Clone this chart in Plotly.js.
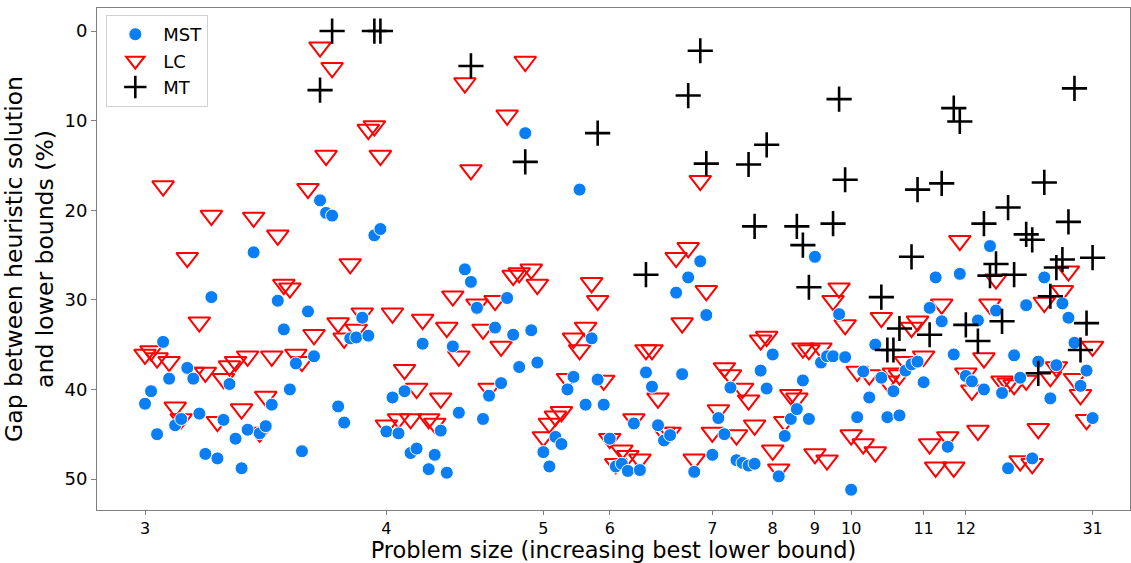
<!DOCTYPE html>
<html>
<head>
<meta charset="utf-8">
<script src="https://cdn.plot.ly/plotly-3.0.1.min.js"></script>
<style>html,body{margin:0;padding:0;background:#fff;}#chart{width:1131px;height:563px;}</style>
</head>
<body>
<div id="chart"></div>
<script>
// Instances sorted by best lower bound; value = gap (%) per heuristic
const mstGap = [
41.6,40.2,45.0,34.7,38.8,44.0,43.3,37.6,38.8,42.7,
47.2,29.7,47.7,43.4,39.4,45.5,48.8,44.5,24.7,44.9,
44.1,41.7,30.1,33.3,40.0,37.1,46.9,31.3,36.3,18.9,
20.3,20.6,41.9,43.7,34.3,34.2,32.0,34.0,22.8,22.1,
44.7,40.9,44.9,40.2,47.1,46.6,34.9,48.9,47.3,44.6,
49.3,35.2,42.6,26.6,28.0,30.9,43.3,40.7,33.1,39.3,
29.8,33.9,37.5,11.4,33.4,37.0,47.0,48.6,45.3,46.1,
40.0,38.6,17.7,41.7,34.3,38.9,41.7,45.5,48.6,48.3,
49.1,43.8,49.0,38.1,39.7,44.0,45.7,45.1,29.2,38.3,
27.5,49.2,25.7,31.7,47.3,43.2,45.0,39.8,47.9,48.2,
48.5,48.3,37.9,39.9,36.1,49.7,45.2,43.3,42.2,39.0,
43.3,25.2,37.0,36.3,36.3,31.6,36.4,51.2,43.1,38.0,
40.9,35.0,38.7,43.1,40.2,42.9,37.9,37.2,36.9,39.2,
30.9,27.5,32.4,46.4,36.1,27.1,38.5,39.1,32.3,40.0,
24.0,31.2,40.4,48.8,36.2,38.7,30.6,47.7,36.9,27.5,
41.0,37.3,30.4,32.0,34.8,39.6,37.9,43.2
];
const lcGap = [
36.1,35.7,36.5,17.3,36.9,42.0,43.3,25.3,38.1,32.5,
38.1,20.6,43.6,38.8,37.4,36.9,42.2,36.3,20.8,44.8,
40.8,36.3,22.8,28.3,28.7,36.1,36.9,17.6,33.9,1.8,
13.9,4.1,32.6,34.3,26.0,33.3,31.5,11.0,10.6,13.9,
44.0,31.5,43.3,37.8,43.3,39.9,32.2,43.3,43.8,41.0,
33.1,29.6,36.3,5.8,15.5,30.5,33.3,39.9,30.1,35.2,
9.4,27.3,27.0,3.4,26.6,28.3,45.3,43.8,43.0,42.5,
38.8,34.3,35.6,33.1,28.1,30.1,39.0,45.5,48.3,46.8,
47.4,43.3,47.8,35.6,35.6,41.0,44.8,44.8,25.3,32.6,
24.2,47.8,16.7,29.0,44.8,42.3,37.6,38.4,45.1,39.9,
41.2,44.0,34.5,34.1,46.8,48.9,43.6,40.6,41.0,35.4,
35.6,47.2,35.4,47.9,30.1,28.7,32.8,45.1,38.0,46.1,
38.4,47.0,32.0,39.1,38.2,38.4,36.9,33.1,32.4,36.3,
46.1,48.7,30.5,45.3,48.7,23.4,38.2,40.1,44.6,36.5,
30.5,27.7,39.1,39.3,39.5,48.0,39.0,48.3,44.4,30.3,
38.6,37.5,29.0,26.8,38.8,40.6,43.4,35.2
];
// MT: only instances whose gap lies inside the shown range
const mtInstance = [29,31,38,39,54,63,75,83,90,92,93,100,101,103,108,109,110,114,115,116,122,123,124,125,127,128,130,132,134,135,136,138,139,140,141,142,143,144,146,147,148,149,150,151,152,153,154,155,156,157];
const mtGap = [6.6,0,0,0,3.9,14.6,11.4,27.2,7.2,2.2,14.8,14.9,21.8,12.7,21.8,23.9,28.6,21.5,7.6,16.6,29.7,35.6,35.6,33.2,25.2,17.7,33.9,17.0,8.6,10.1,32.8,34.6,21.5,27.3,26.0,32.4,19.7,27.2,22.7,23.3,38.2,16.9,29.6,26.4,25.5,21.3,6.4,35.6,32.6,25.3];
// first instance of each problem size
const sizeTickInstance = [0,40,66,77,94,104,111,117,129,136,157];
const sizeTickLabel = ['3','4','5','6','7','8','9','10','11','12','31'];

const idx = a => a.map((_, i) => i);
const FONT = 'DejaVu Sans, sans-serif';

const traces = [
  {type:'scatter', mode:'markers', name:'LC', legendrank:2,
   x: idx(lcGap), y: lcGap,
   marker:{symbol:'triangle-down-open', size:19, color:'#ff0000', line:{width:2, color:'#ff0000'}}},
  {type:'scatter', mode:'markers', name:'MST', legendrank:1,
   x: idx(mstGap), y: mstGap,
   marker:{symbol:'circle', size:13, color:'#0a7ff5', line:{width:1, color:'#ffffff'}}},
  {type:'scatter', mode:'markers', name:'MT', legendrank:3,
   x: mtInstance, y: mtGap,
   marker:{symbol:'cross-thin-open', size:18, color:'#000000', line:{width:2.6, color:'#000000'}}}
];

const layout = {
  width:1131, height:563,
  margin:{l:97, r:1, t:8, b:53},
  paper_bgcolor:'#ffffff', plot_bgcolor:'#ffffff',
  font:{family:FONT, color:'#000', size:18},
  showlegend:true,
  legend:{x:0.009, y:0.986, xanchor:'left', yanchor:'top',
          bgcolor:'rgba(255,255,255,0.85)', bordercolor:'#d0d0d0', borderwidth:1,
          font:{family:FONT, size:18}, itemwidth:46, itemsizing:'trace'},
  xaxis:{range:[-7.955, 163.2], tickmode:'array', tickvals:sizeTickInstance, ticktext:sizeTickLabel,
         showgrid:false, zeroline:false, showline:true, mirror:true, linecolor:'#808080', linewidth:1,
         ticks:'outside', ticklen:4, tickcolor:'#808080', tickfont:{family:FONT, size:16},
         title:{text:'Problem size (increasing best lower bound)', font:{family:FONT, size:22.5}, standoff:9}},
  yaxis:{range:[53.46, -2.57], tickmode:'array', tickvals:[0,10,20,30,40,50],
         showgrid:false, zeroline:false, showline:true, mirror:true, linecolor:'#808080', linewidth:1,
         ticks:'outside', ticklen:5, tickcolor:'#808080', tickfont:{family:FONT, size:18},
         title:{text:'Gap between heuristic solution<br>and lower bounds (%)', font:{family:FONT, size:23.5}, standoff:6}}
};

Plotly.newPlot('chart', traces, layout, {displayModeBar:false, staticPlot:true});
</script>
</body>
</html>
